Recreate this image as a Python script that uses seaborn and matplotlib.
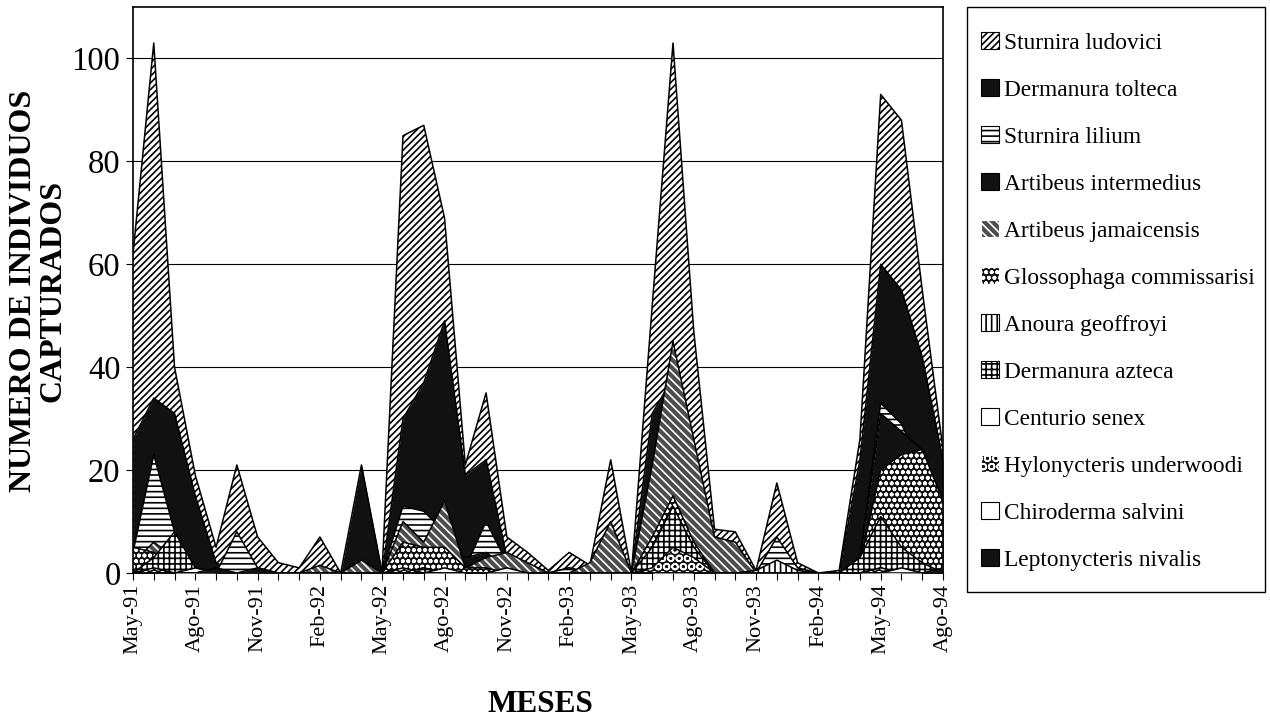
import numpy as np
import pandas as pd
import matplotlib
matplotlib.use("Agg")
import matplotlib.pyplot as plt
import seaborn as sns
from matplotlib.patches import Patch, Rectangle

# Monthly captures, May-1991 .. Aug-1994
months = ["May-91", "Jun-91", "Jul-91", "Ago-91", "Sep-91", "Oct-91", "Nov-91", "Dic-91",
          "Ene-92", "Feb-92", "Mar-92", "Abr-92", "May-92", "Jun-92", "Jul-92", "Ago-92",
          "Sep-92", "Oct-92", "Nov-92", "Dic-92", "Ene-93", "Feb-93", "Mar-93", "Abr-93",
          "May-93", "Jun-93", "Jul-93", "Ago-93", "Sep-93", "Oct-93", "Nov-93", "Dic-93",
          "Ene-94", "Feb-94", "Mar-94", "Abr-94", "May-94", "Jun-94", "Jul-94", "Ago-94"]
tick_labels = ["May-91", "Ago-91", "Nov-91", "Feb-92", "May-92", "Ago-92", "Nov-92",
               "Feb-93", "May-93", "Ago-93", "Nov-93", "Feb-94", "May-94", "Ago-94"]

sturnira_ludovici = [62, 103, 40, 19, 5, 21, 7, 2, 1, 7, 0, 0, 1, 85, 87, 69, 21, 35, 7, 4,
                     0.5, 4, 1.5, 22, 0, 52, 103, 47, 8.5, 8, 0.5, 17.5, 2, 0, 0.5, 26, 93, 88, 55, 24]
dermanura_tolteca = [26, 34, 31, 15, 2, 0, 0, 0, 0, 0, 0, 21, 0, 30, 37, 49, 19, 22, 3, 1,
                     0, 1, 0, 0, 0, 31, 38, 18, 0, 0, 0, 0, 0, 0, 0, 22, 60, 55, 42, 22]
sturnira_lilium = [4, 23, 8, 1, 0, 8, 1, 0, 0, 1, 0, 0, 0, 13, 12, 8, 1, 10, 2, 1,
                   0, 1, 0, 0, 0, 14, 29, 12, 2, 3, 0, 7, 1, 0, 0, 3, 33, 29, 20, 4]
artibeus_intermedius = [1, 3, 2, 0, 0, 0, 0, 0, 0, 0, 0, 2, 0, 2, 3, 4, 3, 4, 1, 0,
                        0, 0, 0, 0, 0, 3, 5, 3, 0, 0, 0, 0, 0, 0, 0, 2, 31, 27.5, 24, 12]
artibeus_jamaicensis = [2, 6, 3, 0, 0, 0, 0, 0, 0, 1.5, 0, 2.5, 0, 10, 6, 14, 1, 3, 4, 2,
                        0, 0, 2, 10, 0, 21, 45, 26, 7, 6, 0, 0, 0, 0, 0, 1.5, 4, 3, 1, 0]
glossophaga_commissarisi = [5, 4, 2, 0, 0, 0, 0, 0, 0, 0, 0, 0, 0, 6, 5, 5, 1, 1, 0, 0,
                            0, 0, 0, 0, 0, 7, 15, 6, 0, 0, 0, 0, 0, 0, 0, 2, 20, 23, 24, 14]
anoura_geoffroyi = [0, 2, 3, 0, 0, 0, 0, 0, 0, 0, 0, 0, 0, 0, 1, 0, 0, 0, 0, 0,
                    0, 0, 0, 0, 0, 0, 2, 1, 0, 0, 0.5, 2.5, 0.5, 0, 0, 0, 2, 1, 0, 0]
dermanura_azteca = [0, 3, 8, 1, 0, 0, 0, 0, 0, 0, 0, 0, 0, 0, 1, 0, 0, 0, 0, 0,
                    0, 0, 0, 0, 0, 5, 13, 5, 0, 0, 0, 0, 0, 0, 0, 3, 11, 5, 2, 0]
centurio_senex = [0, 0, 0, 1, 0, 0, 0, 0, 0, 0, 0, 0, 0, 0, 0, 1, 0, 0, 0, 0,
                  0, 0, 0, 0, 0, 0, 1, 0, 0, 0, 0, 0, 0, 0, 0, 0, 1, 0, 0, 0]
hylonycteris_underwoodi = [0, 1, 0, 0, 0, 0, 0, 0, 0, 0, 0, 0, 0, 1, 0, 0, 0, 0, 0, 0,
                           0, 0, 0, 0, 0, 1, 5, 3, 0, 0, 0, 0, 0, 0, 0, 0, 1, 0, 0, 0]
chiroderma_salvini = [0, 0, 0, 0, 0, 0, 0, 0, 0, 0, 0, 0, 0, 0, 0, 0, 0, 0, 1, 0,
                      0, 0, 0, 0, 0, 0, 0, 0, 0, 0, 0, 0, 0, 0, 0, 0, 0, 1, 0, 0]
leptonycteris_nivalis = [0, 0, 0, 0, 1, 0, 1, 0, 0, 0, 0, 0, 0, 0, 0, 0, 0, 0, 0, 0,
                         0, 0, 0, 0, 0, 0, 0, 0, 0, 0, 0, 0, 0, 0, 0, 0, 0, 0, 0, 1]

species = ["Sturnira ludovici", "Dermanura tolteca", "Sturnira lilium", "Artibeus intermedius",
           "Artibeus jamaicensis", "Glossophaga commissarisi", "Anoura geoffroyi",
           "Dermanura azteca", "Centurio senex", "Hylonycteris underwoodi",
           "Chiroderma salvini", "Leptonycteris nivalis"]
series = [sturnira_ludovici, dermanura_tolteca, sturnira_lilium, artibeus_intermedius,
          artibeus_jamaicensis, glossophaga_commissarisi, anoura_geoffroyi, dermanura_azteca,
          centurio_senex, hylonycteris_underwoodi, chiroderma_salvini, leptonycteris_nivalis]

df = pd.DataFrame({name: vals for name, vals in zip(species, series)})
df["mes"] = np.arange(len(months))

# (face colour, hatch, hatch colour) for each species, back to front
styles = [
    ("white", "/////", "black"),
    ("#111111", None, "#111111"),
    ("white", "---", "black"),
    ("#111111", None, "#111111"),
    ("#4d4d4d", "\\\\\\\\", "white"),
    ("#111111", "ooo", "white"),
    ("white", "|||", "black"),
    ("white", "+++", "black"),
    ("white", None, "black"),
    ("#111111", "OO", "white"),
    ("white", None, "black"),
    ("#111111", None, "#111111"),
]

sns.set_theme(style="ticks")
plt.rcParams["font.family"] = ["Liberation Serif", "DejaVu Serif"]
plt.rcParams["hatch.linewidth"] = 1.2
plt.rcParams["text.color"] = "black"

W, H = 1270, 728
fig = plt.figure(figsize=(W / 100, H / 100), dpi=100)
ax = fig.add_axes([133 / W, 1 - 573 / H, (943 - 133) / W, (573 - 7) / H])

x = df["mes"].to_numpy()
for i, (name, (face, hatch, hcol)) in enumerate(zip(species, styles)):
    z = 2 + i * 0.1
    ax.fill_between(x, 0, df[name], facecolor=face, edgecolor=hcol, hatch=hatch,
                    linewidth=0, zorder=z)
    sns.lineplot(data=df, x="mes", y=name, ax=ax, color="black", lw=1.1,
                 zorder=z + 0.05, legend=False)

ax.set_xlim(0, len(months) - 1)
ax.set_ylim(0, 110)
ax.set_yticks(np.arange(0, 101, 20))
ax.yaxis.grid(True, color="black", lw=0.8)
ax.set_axisbelow(True)

ax.set_xticks(x)
ax.set_xticklabels([m if m in tick_labels else "" for m in months], rotation=90)
ax.tick_params(axis="x", labelsize=16, length=5, width=0.8, color="black",
               labelcolor="black", bottom=True, pad=3)
ax.tick_params(axis="y", labelsize=23.5, length=5, width=0.8, color="black",
               labelcolor="black", left=True, pad=4)

for sp in ax.spines.values():
    sp.set_visible(True)
    sp.set_color("black")
    sp.set_linewidth(1.2)

ax.set_xlabel("")
ax.set_ylabel("")
fig.text(38 / W, 1 - 291 / H, "NUMERO DE INDIVIDUOS\nCAPTURADOS", rotation=90,
         ha="center", va="center", multialignment="center", fontsize=23,
         fontweight="bold", linespacing=1.0, color="black")
fig.text(540 / W, 1 - 705 / H, "MESES", ha="center", va="center",
         fontsize=22.5, fontweight="bold", color="black")

# legend frame drawn separately so the entries can be spaced freely inside it
fig.patches.append(Rectangle((967 / W, 1 - 592 / H), (1265 - 967) / W, (592 - 7) / H,
                             transform=fig.transFigure, facecolor="white",
                             edgecolor="black", lw=1.0, zorder=0))
handles = [Patch(facecolor=face, edgecolor=(hcol if hatch else "black"), hatch=hatch, lw=0.8)
           for face, hatch, hcol in styles]
leg = fig.legend(handles, species, loc="upper left",
                 bbox_to_anchor=(981 / W, 1 - 32 / H), frameon=False,
                 fontsize=16.8, borderaxespad=0, borderpad=0, handlelength=0.75,
                 handleheight=0.75, handletextpad=0.25, labelspacing=1.085)
for t in leg.get_texts():
    t.set_color("black")

fig.savefig("out.png", dpi=100, facecolor="white")
